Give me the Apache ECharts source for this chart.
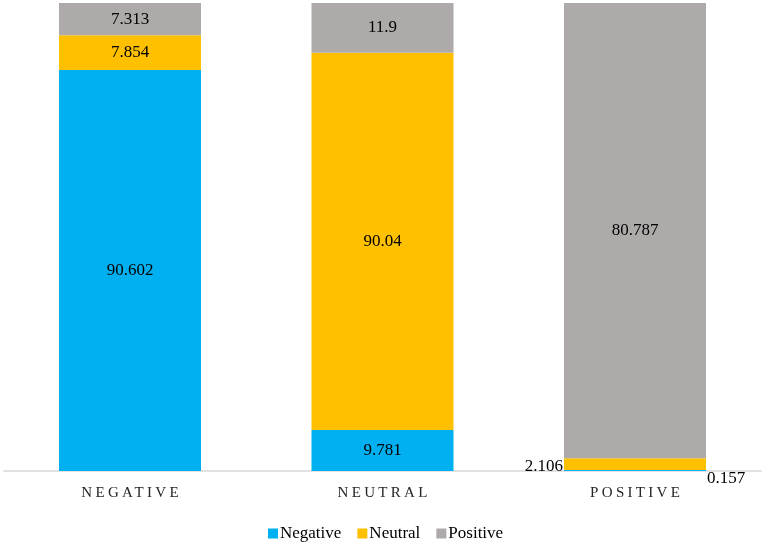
<!DOCTYPE html>
<html>
<head>
<meta charset="utf-8">
<script src="https://cdn.jsdelivr.net/npm/echarts@6/dist/echarts.min.js"></script>
<style>
  html, body { margin: 0; padding: 0; background: #fff; }
  #chart { width: 765px; height: 544px; }
</style>
</head>
<body>
<div id="chart"></div>
<script>
const categories = ['NEGATIVE', 'NEUTRAL', 'POSITIVE'];
const seriesNames = ['Negative', 'Neutral', 'Positive'];
const negativeValues = [90.602, 9.781, 0.157];
const neutralValues = [7.854, 90.04, 2.106];
const positiveValues = [7.313, 11.9, 80.787];
const colors = ['#00B0F0', '#FFC000', '#AEAAAA'];

const raw = [negativeValues, neutralValues, positiveValues];
const totals = categories.map((c, i) => raw.reduce((s, arr) => s + arr[i], 0));

const serif = 'Liberation Serif';

// letter-spaced category labels (canvas letterSpacing), all other text unspaced
const origFillText = CanvasRenderingContext2D.prototype.fillText;
CanvasRenderingContext2D.prototype.fillText = function (text, x, y, maxWidth) {
  const spaced = categories.indexOf(String(text)) >= 0;
  if ('letterSpacing' in this) {
    const want = spaced ? '3.3px' : '0px';
    if (this.letterSpacing !== want) {
      const f = this.font;
      this.letterSpacing = want;
      this.font = f;
    }
  }
  const dx = spaced ? 1.65 : 0;
  return maxWidth === undefined ? origFillText.call(this, text, x + dx, y)
                                : origFillText.call(this, text, x + dx, y, maxWidth);
};

function makeSeries(k) {
  return {
    name: seriesNames[k],
    type: 'bar',
    stack: 'total',
    barWidth: 142,
    itemStyle: { color: colors[k] },
    label: {
      show: true,
      position: 'inside',
      color: '#000',
      fontFamily: serif,
      fontSize: 17,
      formatter: p => String(raw[k][p.dataIndex])
    },
    data: raw[k].map((v, i) => {
      const item = { value: v / totals[i] * 100 };
      if (k === 0 && i === 2) {
        item.label = { position: 'right', distance: 1, offset: [0, 8] };
      } else if (k === 1 && i === 2) {
        item.label = { position: 'left', distance: 1, offset: [0, 2] };
      }
      return item;
    })
  };
}

const chart = echarts.init(document.getElementById('chart'), null, { renderer: 'canvas' });
chart.setOption({
  animation: false,
  color: colors,
  grid: { left: 3.75, right: 3.75, top: 3, bottom: 73, containLabel: false },
  xAxis: {
    type: 'category',
    data: categories,
    axisLine: { show: true, lineStyle: { color: '#D9D9D9', width: 1.5 } },
    axisTick: { show: false },
    axisLabel: { color: '#262626', fontFamily: serif, fontSize: 15, margin: 15 }
  },
  yAxis: {
    type: 'value',
    min: 0,
    max: 100,
    show: false,
    splitLine: { show: false }
  },
  legend: {
    data: seriesNames,
    left: 263,
    top: 520,
    icon: 'rect',
    itemWidth: 10,
    itemHeight: 10,
    itemGap: 16,
    textStyle: { color: '#000', fontFamily: serif, fontSize: 17, padding: [0, 0, 0, -3] }
  },
  series: [makeSeries(0), makeSeries(1), makeSeries(2)]
});
</script>
</body>
</html>
